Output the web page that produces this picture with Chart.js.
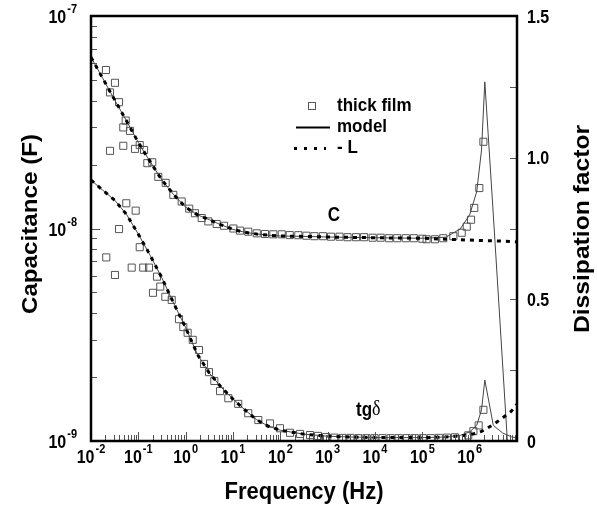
<!DOCTYPE html>
<html>
<head>
<meta charset="utf-8">
<script src="https://cdn.jsdelivr.net/npm/chart.js@4"></script>
<style>
  html, body { margin: 0; padding: 0; background: #fff; }
  #wrap { position: relative; width: 597px; height: 510px; }
</style>
</head>
<body>
<div id="wrap"><canvas id="chart"></canvas></div>
<script>
// measured points, thick film
const capFreq = [0.0207, 0.0321, 0.0252, 0.0391, 0.0541, 0.0481, 0.0667, 0.0252, 0.0481, 0.0851, 0.107, 0.132,
  0.155, 0.197, 0.264, 0.378, 0.548, 0.824, 1.19, 1.57, 2.18, 3.01, 4.53, 6.46, 10.2, 14.1, 21.0, 31.7, 47.4,
  71.1, 107, 158, 240, 355, 525, 794, 1175, 1778, 2630, 3981, 5888, 8913, 13180, 19950, 29510, 44670, 66070,
  100000, 123000, 185000, 277000, 452000, 679000, 867000, 1070000, 1250000, 1600000, 1950000];
const capData = [5.57e-8, 4.85e-8, 4.37e-8, 3.93e-8, 3.22e-8, 2.99e-8, 2.88e-8, 2.32e-8, 2.45e-8, 2.37e-8, 2.47e-8, 2.34e-8,
  2.03e-8, 2.05e-8, 1.75e-8, 1.64e-8, 1.44e-8, 1.34e-8, 1.24e-8, 1.18e-8, 1.12e-8, 1.08e-8, 1.05e-8, 1.03e-8, 1.0e-8, 9.77e-9, 9.66e-9, 9.49e-9, 9.42e-9,
  9.39e-9, 9.39e-9, 9.31e-9, 9.3e-9, 9.25e-9, 9.2e-9, 9.2e-9, 9.15e-9, 9.15e-9, 9.1e-9, 9.1e-9, 9.1e-9, 9.05e-9, 9.05e-9, 9.0e-9, 9.0e-9, 9.0e-9, 9.0e-9,
  8.95e-9, 8.9e-9, 8.9e-9, 9.0e-9, 9.2e-9, 9.55e-9, 1.02e-8, 1.1e-8, 1.25e-8, 1.55e-8, 2.56e-8];

const tgFreq = [0.021, 0.0321, 0.0391, 0.0557, 0.0724, 0.0879, 0.107, 0.127, 0.168, 0.204, 0.248, 0.291, 0.372,
  0.507, 0.723, 0.891, 1.10, 1.41, 1.91, 2.44, 3.11, 4.03, 5.32, 7.96, 12.9, 21.0, 34.3, 60.5, 98.4, 160, 261,
  424, 625, 923, 1380, 2040, 3020, 4470, 6610, 9770, 14450, 21380, 31620, 46770, 69180, 102300, 151400, 223900,
  331100, 489800, 933000, 1200000, 1550000, 1950000];
const tgData = [0.648, 0.586, 0.748, 0.839, 0.612, 0.813, 0.684, 0.612, 0.612, 0.523, 0.58, 0.545, 0.509,
  0.498, 0.43, 0.402, 0.382, 0.357, 0.321, 0.272, 0.243, 0.212, 0.176, 0.151, 0.131, 0.098, 0.074, 0.062, 0.045, 0.029, 0.025,
  0.021, 0.018, 0.014, 0.012, 0.011, 0.011, 0.01, 0.01, 0.01, 0.01, 0.01, 0.01, 0.01, 0.01, 0.01, 0.01, 0.011,
  0.012, 0.013, 0.02, 0.035, 0.055, 0.11];

// model curves (with and without inductance)
const modelFreq = [0.01, 0.0178, 0.0316, 0.0562, 0.1, 0.178, 0.316, 0.562, 1, 1.78, 3.16, 5.62, 10, 17.8, 31.6,
  56.2, 100, 316, 1000, 3162, 10000, 31620, 100000, 316200, 631000, 1000000, 1410000, 1780000, 2090000,
  3160000, 5010000, 7590000, 10000000];
const capModel = [6.4e-8, 5.08e-8, 4.03e-8, 3.21e-8, 2.54e-8, 2.06e-8, 1.69e-8, 1.44e-8, 1.26e-8, 1.16e-8, 1.1e-8, 1.04e-8, 9.9e-9, 9.6e-9, 9.42e-9,
  9.3e-9, 9.22e-9, 9.18e-9, 9.12e-9, 9.08e-9, 9.05e-9, 9.02e-9, 9.0e-9, 9.1e-9, 9.95e-9, 1.16e-8, 1.49e-8, 2.34e-8, 4.9e-8,
  1.16e-8, 2.23e-9, 5.0e-10, 2.15e-10];
const capNoL = [6.4e-8, 5.08e-8, 4.03e-8, 3.21e-8, 2.54e-8, 2.06e-8, 1.69e-8, 1.44e-8, 1.26e-8, 1.16e-8, 1.1e-8, 1.04e-8, 9.9e-9, 9.6e-9, 9.42e-9,
  9.3e-9, 9.22e-9, 9.18e-9, 9.12e-9, 9.08e-9, 9.05e-9, 9.02e-9, 9.0e-9, 8.9e-9, 8.85e-9, 8.82e-9, 8.8e-9, 8.78e-9, 8.77e-9,
  8.75e-9, 8.72e-9, 8.68e-9, 8.65e-9];
const tgModel = [0.921, 0.885, 0.85, 0.8, 0.73, 0.655, 0.575, 0.485, 0.4, 0.305, 0.24, 0.19, 0.148, 0.11, 0.075,
  0.052, 0.038, 0.024, 0.017, 0.014, 0.012, 0.012, 0.012, 0.014, 0.02, 0.032, 0.055, 0.11, 0.215,
  0.055, 0.028, 0.015, 0.01];
const tgNoL = [0.921, 0.885, 0.85, 0.8, 0.73, 0.655, 0.575, 0.485, 0.4, 0.305, 0.24, 0.19, 0.148, 0.11, 0.075,
  0.052, 0.038, 0.024, 0.017, 0.014, 0.012, 0.012, 0.012, 0.014, 0.018, 0.022, 0.028, 0.034, 0.04,
  0.058, 0.082, 0.105, 0.13];

const xTickExps = [-2, -1, 0, 1, 2, 3, 4, 5, 6];
const yTickExps = [-9, -8, -7];
const y1Ticks = [0, 0.5, 1.0, 1.5];
const y1TickLabels = ['0', '0.5', '1.0', '1.5'];

const FONT = '"Liberation Sans", Arial, Helvetica, sans-serif';
const STRETCH = 1.15; // glyphs in the figure look a bit taller than wide

function pts(fs, vs) { return fs.map((f, i) => ({x: f, y: vs[i]})); }

function txt(ctx, s, x, y, sy) {
  ctx.save();
  ctx.translate(x, y);
  ctx.scale(1, sy || STRETCH);
  ctx.fillText(s, 0, 0);
  ctx.restore();
}

function pow10(ctx, exp, x, base, align) {
  const big = 'bold 16px ' + FONT, small = 'bold 11px ' + FONT;
  ctx.font = big;
  const w1 = ctx.measureText('10').width;
  ctx.font = small;
  const w2 = ctx.measureText(String(exp)).width;
  let left = x;
  if (align === 'center') left = x - (w1 + w2 + 1) / 2;
  if (align === 'right') left = x - (w1 + w2 + 1);
  ctx.textAlign = 'left';
  ctx.textBaseline = 'alphabetic';
  ctx.font = big;
  txt(ctx, '10', left, base, 1.2);
  ctx.font = small;
  txt(ctx, String(exp), left + w1 + 1, base - 10, 1.2);
}

const frame = {
  id: 'frame',
  afterDatasetsDraw(chart) {
    const {ctx, chartArea: a, scales: {x, y, y1}} = chart;
    ctx.save();
    ctx.fillStyle = '#000';
    ctx.strokeStyle = '#555';
    ctx.lineWidth = 1;
    ctx.beginPath();
    xTickExps.concat([7]).forEach(e => {
      for (let m = 1; m <= 9; m++) {
        if (e === 7 && m > 1) break;
        const px = Math.round(x.getPixelForValue(m * Math.pow(10, e))) + 0.5;
        ctx.moveTo(px, a.bottom);
        ctx.lineTo(px, a.bottom - (m === 1 ? 9 : 6));
      }
    });
    [-9, -8].forEach(e => {
      for (let m = 1; m <= 9; m++) {
        const py = Math.round(y.getPixelForValue(m * Math.pow(10, e))) + 0.5;
        ctx.moveTo(a.left, py);
        ctx.lineTo(a.left + (m === 1 ? 9 : 6), py);
      }
    });
    [0.25, 0.5, 0.75, 1.0, 1.25].forEach(v => {
      const py = Math.round(y1.getPixelForValue(v)) + 0.5;
      ctx.moveTo(a.right, py);
      ctx.lineTo(a.right - 7, py);
    });
    ctx.stroke();

    ctx.strokeStyle = '#000';
    ctx.lineWidth = 2.5;
    ctx.strokeRect(a.left, a.top, a.right - a.left, a.bottom - a.top);

    // tick labels
    xTickExps.forEach(e => pow10(ctx, e, x.getPixelForValue(Math.pow(10, e)), a.bottom + 22, 'center'));
    yTickExps.forEach(e => pow10(ctx, e, a.left - 14, y.getPixelForValue(Math.pow(10, e)) + 7, 'right'));
    ctx.font = 'bold 16px ' + FONT;
    ctx.textAlign = 'left';
    y1Ticks.forEach((v, i) => txt(ctx, y1TickLabels[i], a.right + 10, y1.getPixelForValue(v) + 6.5, 1.1));

    // axis titles
    ctx.font = 'bold 22px ' + FONT;
    ctx.textAlign = 'center';
    ctx.textBaseline = 'middle';
    txt(ctx, 'Frequency (Hz)', (a.left + a.right) / 2, 492, 1.1);
    ctx.save();
    ctx.translate(31, 224);
    ctx.rotate(-Math.PI / 2);
    ctx.scale(1.1, 1);
    ctx.fillText('Capacitance (F)', 0, 0);
    ctx.restore();
    ctx.save();
    ctx.translate(583, 229);
    ctx.rotate(-Math.PI / 2);
    ctx.scale(1.12, 1);
    ctx.fillText('Dissipation factor', 0, 0);
    ctx.restore();

    // curve labels
    ctx.font = 'bold 17px ' + FONT;
    txt(ctx, 'C', 334, 216);
    ctx.textAlign = 'left';
    txt(ctx, 'tg', 356, 411);
    const wtg = ctx.measureText('tg').width;
    ctx.font = '18px "Liberation Serif", serif';
    txt(ctx, '\u03b4', 356 + wtg, 410);

    // legend
    ctx.font = 'bold 17px ' + FONT;
    txt(ctx, 'thick film', 337, 106, 1.05);
    txt(ctx, 'model', 337, 127, 1.05);
    txt(ctx, '- L', 337, 148, 1.05);
    ctx.lineWidth = 1;
    ctx.strokeStyle = '#555';
    ctx.strokeRect(308.5, 102.5, 7, 7);
    ctx.strokeStyle = '#000';
    ctx.lineWidth = 2;
    ctx.beginPath();
    ctx.moveTo(296, 127.5);
    ctx.lineTo(330, 127.5);
    ctx.stroke();
    ctx.lineWidth = 3;
    ctx.setLineDash([3, 7]);
    ctx.beginPath();
    ctx.moveTo(294, 148.5);
    ctx.lineTo(326, 148.5);
    ctx.stroke();
    ctx.restore();
  }
};

const lineModel = {borderColor: '#444', borderWidth: 1, pointRadius: 0, fill: false, tension: 0};
const lineNoL = {borderColor: '#000', borderWidth: 3, borderDash: [4, 5], pointRadius: 0, fill: false, tension: 0};
const squares = {showLine: false, pointStyle: 'rect', pointRadius: 5, borderColor: '#555', borderWidth: 1,
  backgroundColor: 'rgba(0,0,0,0)'};

new Chart(document.getElementById('chart'), {
  type: 'line',
  data: {
    datasets: [
      Object.assign({label: '- L C', data: pts(modelFreq, capNoL), yAxisID: 'y'}, lineNoL),
      Object.assign({label: '- L tg', data: pts(modelFreq, tgNoL), yAxisID: 'y1'}, lineNoL),
      Object.assign({label: 'model C', data: pts(modelFreq, capModel), yAxisID: 'y'}, lineModel),
      Object.assign({label: 'model tg', data: pts(modelFreq, tgModel), yAxisID: 'y1'}, lineModel),
      Object.assign({label: 'thick film C', data: pts(capFreq, capData), yAxisID: 'y'}, squares),
      Object.assign({label: 'thick film tg', data: pts(tgFreq, tgData), yAxisID: 'y1'}, squares)
    ]
  },
  options: {
    responsive: true,
    maintainAspectRatio: false,
    animation: false,
    layout: {padding: {left: 91, right: 80, top: 16, bottom: 69}},
    plugins: {legend: {display: false}, tooltip: {enabled: false}},
    scales: {
      x: {type: 'logarithmic', min: 0.01, max: 1e7, display: false},
      y: {type: 'logarithmic', min: 1e-9, max: 1e-7, display: false, position: 'left'},
      y1: {type: 'linear', min: 0, max: 1.5, display: false, position: 'right'}
    }
  },
  plugins: [frame]
});
</script>
</body>
</html>
